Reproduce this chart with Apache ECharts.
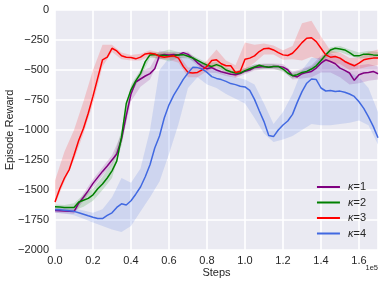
<!DOCTYPE html>
<html><head><meta charset="utf-8">
<script src="https://cdn.jsdelivr.net/npm/echarts@6/dist/echarts.min.js"></script>
<style>html,body{margin:0;padding:0;background:#fff}#c{width:382px;height:283px}</style>
</head><body><div id="c"></div>
<script>
var steps = [0,2500,5000,7500,10000,12500,15000,17500,20000,22500,25000,27500,30000,32500,35000,37500,40000,42500,45000,47500,50000,52500,55000,57500,60000,62500,65000,67500,70000,72500,75000,77500,80000,82500,85000,87500,90000,92500,95000,97500,100000,102500,105000,107500,110000,112500,115000,117500,120000,122500,125000,127500,130000,132500,135000,137500,140000,142500,145000,147500,150000,152500,155000,157500,160000,162500,165000,167500,170000];

var kappa1 = [-1670,-1672,-1675,-1678,-1680,-1610,-1560,-1505,-1445,-1395,-1345,-1300,-1250,-1200,-1075,-880,-700,-600,-575,-550,-530,-490,-380,-370,-375,-370,-375,-355,-370,-400,-440,-470,-490,-480,-500,-515,-525,-535,-540,-530,-510,-500,-480,-475,-470,-478,-470,-470,-476,-498,-547,-558,-531,-520,-512,-484,-443,-415,-429,-448,-484,-503,-525,-586,-539,-525,-520,-512,-531];
var kappa2 = [-1640,-1642,-1645,-1645,-1645,-1600,-1585,-1570,-1540,-1490,-1450,-1400,-1340,-1260,-1060,-780,-665,-590,-530,-430,-374,-370,-380,-378,-385,-380,-375,-372,-385,-400,-420,-440,-460,-470,-455,-470,-500,-515,-525,-525,-505,-490,-475,-460,-470,-478,-470,-470,-492,-525,-547,-539,-520,-512,-492,-465,-421,-374,-333,-319,-325,-333,-355,-382,-382,-368,-368,-374,-377];
var kappa3 = [-1600,-1490,-1400,-1330,-1210,-1085,-985,-860,-718,-566,-415,-393,-319,-341,-382,-393,-396,-407,-393,-366,-360,-366,-385,-393,-388,-382,-401,-470,-520,-525,-520,-498,-470,-421,-415,-448,-465,-465,-520,-511,-410,-401,-382,-346,-322,-319,-333,-355,-374,-379,-360,-319,-272,-236,-231,-264,-319,-374,-393,-388,-401,-429,-448,-465,-443,-415,-407,-401,-401];
var kappa4 = [-1665,-1665,-1668,-1672,-1678,-1690,-1702,-1715,-1727,-1738,-1738,-1712,-1690,-1645,-1615,-1625,-1590,-1535,-1475,-1390,-1290,-1150,-1050,-900,-790,-710,-645,-578,-525,-478,-480,-492,-520,-555,-570,-580,-595,-613,-622,-636,-641,-670,-745,-840,-930,-1045,-1055,-1000,-958,-925,-870,-770,-680,-610,-575,-580,-650,-675,-670,-680,-676,-685,-700,-720,-765,-820,-890,-970,-1065];

var bandSteps = [0,5000,10000,15000,20000,25000,30000,35000,40000,45000,50000,55000,60000,65000,70000,75000,80000,85000,90000,95000,100000,105000,110000,115000,120000,125000,130000,135000,140000,145000,150000,155000,160000,165000,170000];
var kappa1Low  = [-1690,-1695,-1700,-1590,-1480,-1380,-1290,-1120,-760,-640,-580,-410,-400,-400,-395,-465,-520,-525,-550,-565,-535,-505,-495,-495,-505,-580,-570,-560,-520,-520,-560,-620,-610,-590,-580];
var kappa1High = [-1650,-1655,-1660,-1530,-1410,-1310,-1210,-1030,-640,-510,-480,-340,-350,-350,-345,-415,-460,-475,-500,-515,-485,-455,-445,-445,-450,-515,-490,-460,-380,-360,-400,-440,-460,-450,-470];
var kappa2Low  = [-1660,-1665,-1670,-1640,-1590,-1500,-1400,-1130,-700,-560,-400,-405,-430,-400,-405,-440,-480,-475,-520,-545,-525,-495,-490,-490,-515,-570,-540,-515,-445,-360,-350,-380,-405,-395,-400];
var kappa2High = [-1620,-1625,-1610,-1540,-1490,-1390,-1280,-1000,-620,-500,-350,-355,-330,-350,-360,-400,-440,-435,-480,-505,-485,-455,-450,-450,-470,-525,-500,-470,-400,-310,-300,-330,-355,-340,-350];
var kappa3Low  = [-1620,-1430,-1250,-1030,-780,-470,-350,-410,-420,-420,-385,-410,-415,-440,-560,-560,-510,-470,-500,-560,-500,-440,-370,-370,-415,-410,-420,-390,-420,-440,-450,-500,-490,-470,-460];
var kappa3High = [-1420,-1180,-1000,-760,-500,-290,-290,-355,-375,-365,-335,-355,-355,-370,-480,-480,-420,-330,-420,-460,-270,-290,-280,-295,-335,-300,-110,-90,-220,-340,-355,-400,-395,-350,-330];
var kappa4Low  = [-1690,-1695,-1710,-1740,-1770,-1800,-1830,-1850,-1800,-1680,-1560,-1430,-1200,-950,-650,-560,-620,-650,-700,-740,-780,-900,-1030,-1100,-1080,-1050,-1000,-950,-960,-960,-950,-940,-920,-960,-1120];
var kappa4High = [-1640,-1645,-1655,-1670,-1690,-1660,-1560,-1400,-1440,-1320,-1000,-500,-400,-390,-400,-420,-460,-500,-540,-560,-580,-620,-780,-950,-850,-700,-500,-400,-400,-450,-480,-520,-560,-650,-850];

var names = ['κ=1','κ=2','κ=3','κ=4'];
var colors = ['#800080','#008000','#ff0000','#4169e1'];
var xTicks = [0,20000,40000,60000,80000,100000,120000,140000,160000];

var lines = [kappa1,kappa2,kappa3,kappa4];
var lows = [kappa1Low,kappa2Low,kappa3Low,kappa4Low];
var highs = [kappa1High,kappa2High,kappa3High,kappa4High];

function pairs(vals){ return steps.map(function(s,i){return [s, vals[i]];}); }

var series = [];
lows.forEach(function(low, k){
  var high = highs[k];
  series.push({
    type:'custom', name:'band'+k, silent:true, z:1, clip:true,
    data:[[0,0]],
    renderItem:function(params, api){
      var pts=[];
      for (var i=0;i<bandSteps.length;i++) pts.push(api.coord([bandSteps[i], high[i]]));
      for (var j=bandSteps.length-1;j>=0;j--) pts.push(api.coord([bandSteps[j], low[j]]));
      return {type:'polygon', shape:{points:pts}, style:{fill:colors[k], opacity:0.16}};
    }
  });
});
lines.forEach(function(vals, k){
  series.push({
    type:'line', name:names[k], data:pairs(vals), symbol:'none', z:2+k,
    lineStyle:{color:colors[k], width:1.5}, itemStyle:{color:colors[k]}
  });
});

var FONT = 'Liberation Sans, Arial, sans-serif';
var chart = echarts.init(document.getElementById('c'), null, {renderer:'canvas'});
chart.setOption({
  animation:false,
  backgroundColor:'#ffffff',
  textStyle:{fontFamily:FONT},
  grid:{left:55, right:4, top:10, bottom:33, containLabel:false, outerBoundsMode:'none',
        show:true, backgroundColor:'#eaeaf2', borderWidth:0},
  xAxis:{
    type:'value', min:0, max:170000, interval:20000,
    name:'Steps', nameLocation:'middle', nameGap:17, nameMoveOverlap:false,
    nameTextStyle:{fontSize:11, color:'#262626', fontFamily:FONT},
    axisLine:{show:false}, axisTick:{show:false},
    splitLine:{show:true, lineStyle:{color:'#ffffff', width:1.6}},
    axisLabel:{fontSize:11, color:'#262626', margin:5, fontFamily:FONT,
      formatter:function(v){ return xTicks.indexOf(v)>=0 ? (v/1e5).toFixed(1) : ''; }}
  },
  yAxis:{
    type:'value', min:-2000, max:0, interval:250,
    name:'Episode Reward', nameLocation:'middle', nameGap:40, nameMoveOverlap:false,
    nameTextStyle:{fontSize:11, color:'#262626', fontFamily:FONT},
    axisLine:{show:false}, axisTick:{show:false},
    splitLine:{show:true, lineStyle:{color:'#ffffff', width:1.6}},
    axisLabel:{fontSize:11, color:'#262626', margin:6, fontFamily:FONT,
      formatter:function(v){ return String(v).replace('-','\u2212'); }}
  },
  legend:{
    data:names, orient:'vertical', right:16, top:181, padding:0,
    icon:'rect', itemWidth:23, itemHeight:2, itemGap:3.5,
    formatter:function(n){ return '{k|κ}=' + n.split('=')[1]; },
    textStyle:{fontSize:11, color:'#262626', lineHeight:12, padding:[0,0,0,3], fontFamily:FONT,
      rich:{k:{fontStyle:'italic', fontSize:11, color:'#262626', fontFamily:FONT}}}
  },
  graphic:[{type:'text', right:4, top:264, style:{text:'1e5', fontSize:7.5, fill:'#262626', fontFamily:FONT}}],
  series:series
});
</script></body></html>
